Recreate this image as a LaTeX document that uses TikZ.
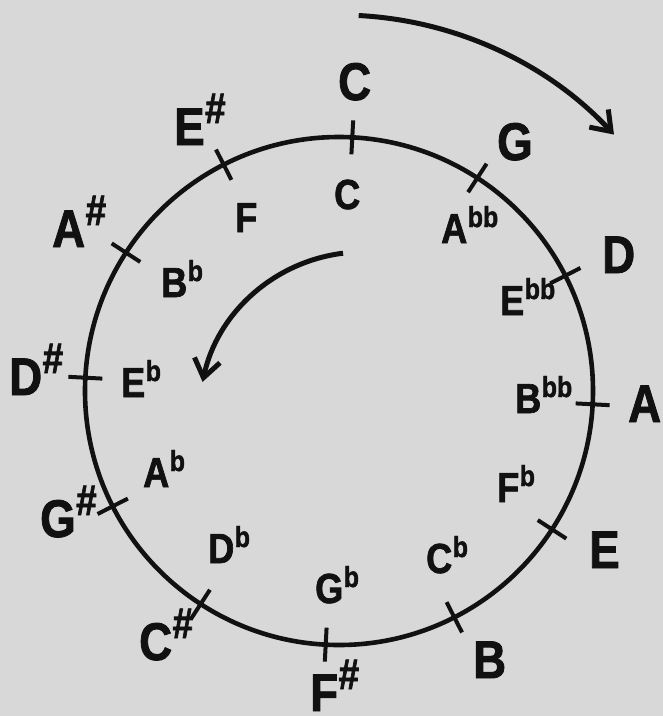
\documentclass[tikz,border=0pt]{standalone}
\usepackage{fontspec}
\usetikzlibrary{arrows.meta,calc}
\newfontfamily\labfont[FakeStretch=0.86, BoldFeatures={FakeBold=1.6}]{Liberation Sans}
\definecolor{bg}{RGB}{216,216,216}
\definecolor{ink}{RGB}{17,17,17}
\newcommand\shp{\kern0.5pt\raisebox{22pt}{\fontsize{43}{43}\selectfont\#}}
\newcommand\flt{\kern0.5pt\raisebox{16pt}{\fontsize{29}{29}\selectfont b}}
\newcommand\dflt{\kern0.5pt\raisebox{16pt}{\fontsize{29}{29}\selectfont bb}}
\begin{document}
\begin{tikzpicture}[x=1pt,y=-1pt,
  outerlab/.style={font=\labfont\bfseries\fontsize{53}{53}\selectfont, anchor=base west, inner sep=0pt, text=ink},
  innerlab/.style={font=\labfont\bfseries\fontsize{42}{42}\selectfont, anchor=base west, inner sep=0pt, text=ink},
  ring/.style={line width=4.6pt, draw=ink},
  tickmark/.style={line width=4pt, draw=ink},
  turnarrow/.style={line width=5pt, draw=ink, -{Straight Barb[length=18pt,width=26pt]}}]
\useasboundingbox (0,0) rectangle (663,716);
\clip (0,0) rectangle (663,716);
\fill[bg] (0,0) rectangle (663,716);
\coordinate (O) at (339,391);
\coordinate (P) at (363,416);
\draw[ring] (O) circle[radius=254];
\foreach \k in {0,...,11} {
  \pgfmathsetmacro\a{-87+30*\k}
  \draw[tickmark] ($(O)+(\a:237)$) -- ($(O)+(\a:271)$);
}
\draw[turnarrow] ($(O)+(-87:376)$) coordinate (oa) arc[start angle=-87, end angle=-43, radius=376];
\draw[turnarrow] ($(P)+(-97:164)$) coordinate (ia) arc[start angle=-97, end angle=-168, radius=164];
% outer labels
\node[outerlab] (oC) at (338,100) {C};
\node[outerlab] (oG) at (497,160) {G};
\node[outerlab] (oD) at (602,273) {D};
\node[outerlab] (oA) at (628,422) {A};
\node[outerlab] (oE) at (589,568) {E};
\node[outerlab] (oB) at (473,678) {B};
\node[outerlab] (oFs) at (310,711) {F\shp};
\node[outerlab] (oCs) at (139,660) {C\shp};
\node[outerlab] (oGs) at (40,537) {G\shp};
\node[outerlab] (oDs) at (9,395) {D\shp};
\node[outerlab] (oAs) at (52,247) {A\shp};
\node[outerlab] (oEs) at (174,145) {E\shp};
% inner labels
\node[innerlab] (iC) at (334,209) {C};
\node[innerlab] (iF) at (235,232) {F};
\node[innerlab] (iBb) at (161,297) {B\flt};
\node[innerlab] (iEb) at (121,397) {E\flt};
\node[innerlab] (iAb) at (143,487) {A\flt};
\node[innerlab] (iDb) at (208,563) {D\flt};
\node[innerlab] (iGb) at (315,603) {G\flt};
\node[innerlab] (iCb) at (426,573) {C\flt};
\node[innerlab] (iFb) at (497,502) {F\flt};
\node[innerlab] (iBbb) at (515,413) {B\dflt};
\node[innerlab] (iEbb) at (500,315) {E\dflt};
\node[innerlab] (iAbb) at (441,243) {A\dflt};
\end{tikzpicture}
\end{document}
